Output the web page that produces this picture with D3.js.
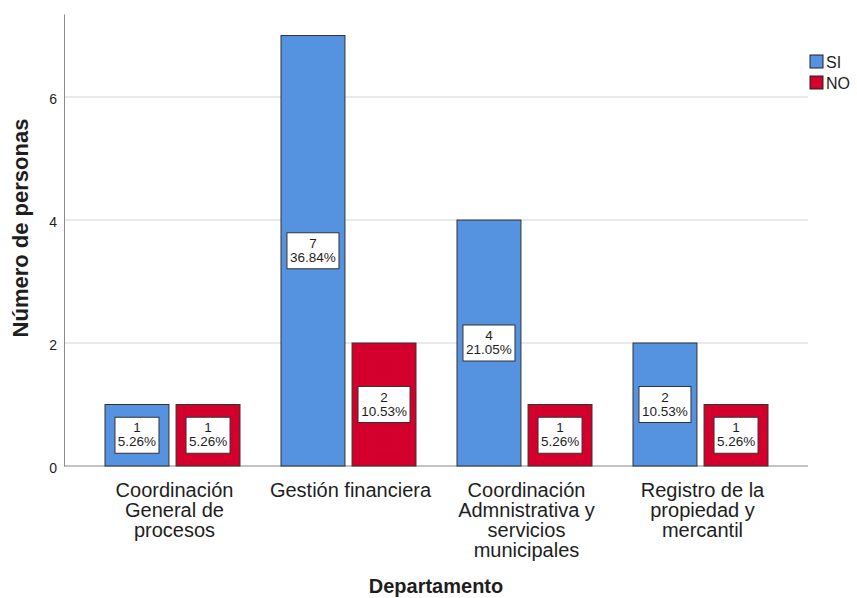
<!DOCTYPE html>
<html lang="es">
<head>
    <title>Departamento</title>
    <script src="https://d3js.org/d3.v7.min.js"></script>
    <style>
        body { margin: 0; background: #fff; }
        text { font-family: "Liberation Sans", Arial, sans-serif; fill: #1e1e1e; }
        .grid line { stroke: #d4d4d4; stroke-width: 1; }
        .y-axis .domain { stroke: #8a8a8a; }
        .y-axis .tick line { display: none; }
    </style>
</head>
<body>
<script>
    const categories = [
        ["Coordinación", "General de", "procesos"],
        ["Gestión financiera"],
        ["Coordinación", "Admnistrativa y", "servicios", "municipales"],
        ["Registro de la", "propiedad y", "mercantil"]
    ];
    const series = ["SI", "NO"];
    const siValues = [1, 7, 4, 2];
    const noValues = [1, 2, 1, 1];
    const siPct = ["5.26%", "36.84%", "21.05%", "10.53%"];
    const noPct = ["5.26%", "10.53%", "5.26%", "5.26%"];
    const yTicks = [0, 2, 4, 6];
    const colors = ["#5592e0", "#d3002d"];

    const W = 857, H = 598;
    const svg = d3.select("body").append("svg").attr("width", W).attr("height", H);

    const y = d3.scaleLinear().domain([0, 7.35]).range([466, 14]);
    const x = d3.scaleBand().domain(d3.range(categories.length)).range([84.5, 788.5]).padding(0);
    const inner = d3.scaleBand().domain(series).range([20.5, 155.5]).paddingInner(0.1);

    // gridlines
    svg.append("g").attr("class", "grid")
        .selectAll("line").data(yTicks.filter(d => d > 0)).enter()
        .append("line")
        .attr("x1", 64).attr("x2", 808)
        .attr("y1", d => y(d)).attr("y2", d => y(d));

    // baseline
    svg.append("line").attr("x1", 64).attr("x2", 808)
        .attr("y1", y(0)).attr("y2", y(0))
        .attr("stroke", "#8a8a8a");

    const yAxis = d3.axisLeft(y).tickValues(yTicks).tickSize(0).tickPadding(7);
    svg.append("g").attr("class", "y-axis")
        .attr("transform", "translate(64,0)")
        .call(yAxis)
        .selectAll("text").style("font-size", "14px").attr("dy", "0.45em");

    const rows = categories.map((c, i) => [
        { s: "SI", v: siValues[i], p: siPct[i], i: i },
        { s: "NO", v: noValues[i], p: noPct[i], i: i }
    ]).flat();

    const g = svg.append("g");
    g.selectAll("rect.bar").data(rows).enter()
        .append("rect").attr("class", "bar")
        .attr("x", d => x(d.i) + inner(d.s))
        .attr("width", inner.bandwidth())
        .attr("y", d => y(d.v))
        .attr("height", d => y(0) - y(d.v))
        .attr("fill", d => colors[series.indexOf(d.s)])
        .attr("stroke", "#333").attr("stroke-width", 1);

    // data labels
    const lab = g.selectAll("g.lab").data(rows).enter()
        .append("g").attr("class", "lab")
        .attr("transform", d => `translate(${x(d.i) + inner(d.s) + inner.bandwidth() / 2},${(y(d.v) + y(0)) / 2})`);
    lab.append("rect")
        .attr("x", d => d.p.length > 5 ? -26 : -22)
        .attr("width", d => d.p.length > 5 ? 52 : 44)
        .attr("y", -18).attr("height", 36)
        .attr("fill", "#fff").attr("stroke", "#333").attr("stroke-width", 1);
    lab.append("text").attr("text-anchor", "middle").attr("y", -3)
        .style("font-size", "13.5px").text(d => d.v);
    lab.append("text").attr("text-anchor", "middle").attr("y", 11)
        .style("font-size", "13.5px").text(d => d.p);

    // category labels
    const cl = svg.append("g").selectAll("text").data(categories).enter()
        .append("text")
        .attr("text-anchor", "middle")
        .attr("x", (d, i) => x(i) + x.bandwidth() / 2 + 2)
        .attr("y", 497)
        .style("font-size", "20px");
    cl.selectAll("tspan").data(d => d).enter()
        .append("tspan")
        .attr("x", function () { return d3.select(this.parentNode).attr("x"); })
        .attr("dy", (d, i) => i === 0 ? 0 : 20)
        .text(d => d);

    // axis titles
    svg.append("text").attr("text-anchor", "middle")
        .attr("x", 436).attr("y", 593)
        .style("font-size", "20px").style("font-weight", "bold")
        .text("Departamento");
    svg.append("text").attr("text-anchor", "middle")
        .attr("transform", "translate(28,228) rotate(-90)")
        .style("font-size", "22px").style("font-weight", "bold")
        .text("Número de personas");

    // legend
    const leg = svg.append("g").attr("transform", "translate(810,55)");
    series.forEach((s, i) => {
        leg.append("rect").attr("x", 0).attr("y", i * 21).attr("width", 13).attr("height", 13)
            .attr("fill", colors[i]).attr("stroke", "#222");
        leg.append("text").attr("x", 16).attr("y", i * 21 + 13)
            .style("font-size", "16px").text(s);
    });
</script>
</body>
</html>
